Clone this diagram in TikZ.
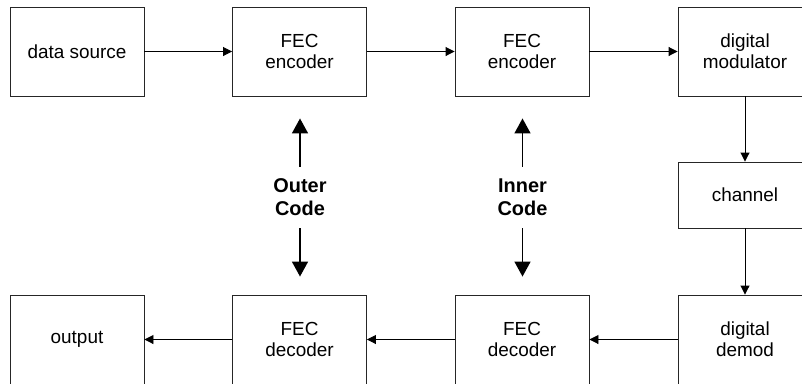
\documentclass[tikz,border=0pt]{standalone}
\usepackage{fontspec}
\setmainfont{Liberation Sans}
\usetikzlibrary{arrows.meta}
\begin{document}
\begin{tikzpicture}[x=1bp,y=-1bp,
  blk/.style={draw=black!85, line width=0.9bp, minimum width=134bp, minimum height=89bp, inner sep=0pt, align=center, font=\fontsize{19}{21}\selectfont},
  chbox/.style={blk, minimum height=66bp},
  flow/.style={line width=0.9bp, -{Triangle[length=9bp,width=9bp]}},
  bigarrow/.style={line width=1.6bp, -{Triangle[length=15bp,width=16bp]}},
  lbl/.style={align=center, inner sep=0pt, minimum height=61bp, font=\fontsize{20}{23}\selectfont\bfseries}]
\useasboundingbox (0,0) rectangle (802,383);
\clip (0,0) rectangle (802,383);
% top row
\node[blk] (src)  at (77,51.5)  {data source};
\node[blk] (enc1) at (299.5,51.5) {FEC\\encoder};
\node[blk] (enc2) at (522,51.5) {FEC\\encoder};
\node[blk] (mod)  at (745,51.5) {digital\\modulator};
% channel
\node[chbox] (chan) at (745,195) {channel};
% bottom row
\node[blk] (out)  at (77,339.5)  {output};
\node[blk] (dec1) at (299.5,339.5) {FEC\\decoder};
\node[blk] (dec2) at (522,339.5) {FEC\\decoder};
\node[blk] (dem)  at (745,339.5) {digital\\demod};
% labels
\node[lbl] (outer) at (300,197.5) {Outer\\Code};
\node[lbl] (inner) at (522.5,197.5) {Inner\\Code};
% flow connectors
\draw[flow] (src) -- (enc1);
\draw[flow] (enc1) -- (enc2);
\draw[flow] (enc2) -- (mod);
\draw[flow] (mod) -- (chan);
\draw[flow] (chan) -- (dem);
\draw[flow] (dem) -- (dec2);
\draw[flow] (dec2) -- (dec1);
\draw[flow] (dec1) -- (out);
% code arrows
\draw[bigarrow, shorten >=22bp] (outer.north) -- (outer.north |- enc1.south);
\draw[bigarrow, shorten >=18bp] (outer.south) -- (outer.south |- dec1.north);
\draw[bigarrow, shorten >=22bp] (inner.north) -- (inner.north |- enc2.south);
\draw[bigarrow, shorten >=18bp] (inner.south) -- (inner.south |- dec2.north);
\end{tikzpicture}
\end{document}
